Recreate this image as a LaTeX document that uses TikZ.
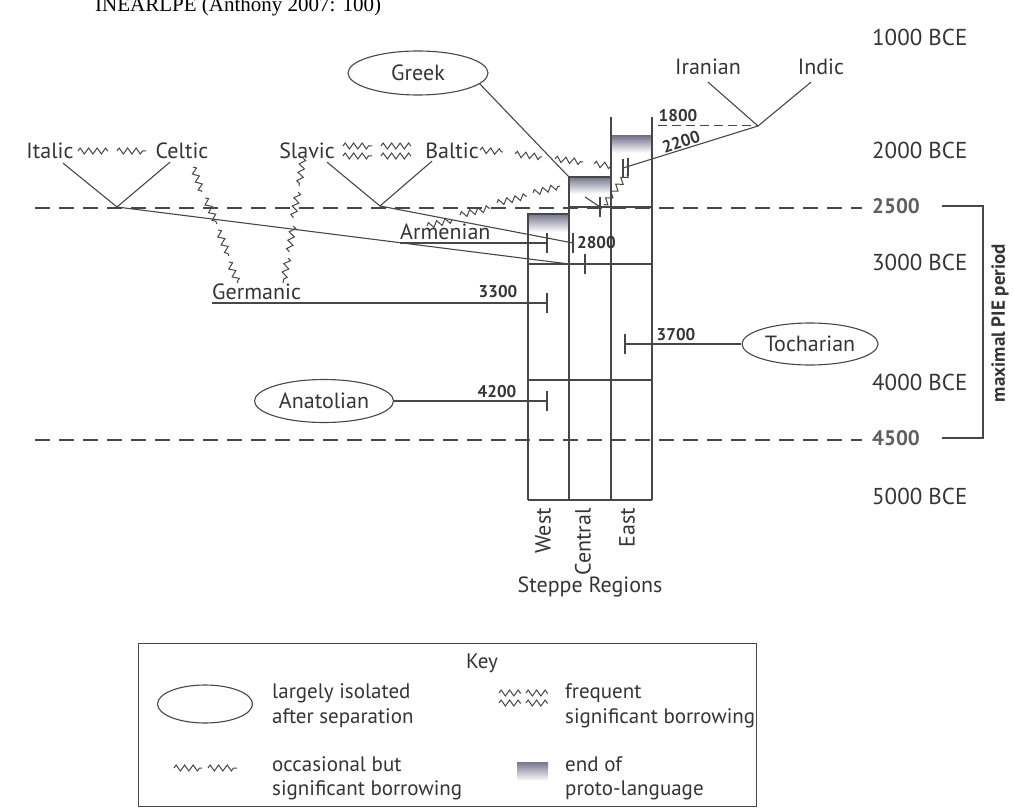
\documentclass[tikz,border=0pt]{standalone}
\usepackage{fontspec}
\setmainfont{PT Sans}
\newfontfamily\capfont{Liberation Serif}
\usetikzlibrary{decorations.pathmorphing,calc,shapes.geometric}
\definecolor{ink}{HTML}{474747}
\definecolor{txt}{HTML}{353535}
\definecolor{dim}{HTML}{5E5E5E}
\definecolor{shd}{RGB}{118,118,142}
\begin{document}
\begin{tikzpicture}[x=1pt,y=-1pt,
  every node/.style={text=txt, inner sep=0pt},
  ln/.style={draw=ink, line width=1.1pt},
  dsh/.style={draw=ink, line width=1.1pt, dash pattern=on 15pt off 9pt},
  zig/.style={draw=ink, line width=1pt, decorate, decoration={zigzag, amplitude=3pt, segment length=8.5pt}},
  lab/.style={font=\fontsize{22}{24}\selectfont},
  keytxt/.style={font=\fontsize{21}{24}\selectfont, anchor=west},
  num/.style={font=\fontsize{17}{19}\selectfont\bfseries},
  era/.style={font=\fontsize{23}{25}\selectfont, anchor=west},
  bnum/.style={font=\fontsize{21}{23}\selectfont\bfseries, anchor=west, text=dim},
  oval/.style={ellipse, draw=ink, line width=1.1pt, font=\fontsize{22}{24}\selectfont},
  tk/.style={draw=ink, line width=1.3pt},
  proto/.style={top color=shd, bottom color=white, draw=none},
]
\useasboundingbox (0,0) rectangle (1014,810);
\fill[white] (0,0) rectangle (1014,810);

% cut-off caption
\node[anchor=base west, font=\capfont\fontsize{21}{21}\selectfont, text=black] (caption) at (95,12) {INEARLPE (Anthony 2007: 100)};

% time scale
\node[era] (e1000) at (872,37) {1000 BCE};
\node[era] (e2000) at (872,150) {2000 BCE};
\node[bnum] (e2500) at (872,206) {2500};
\node[era] (e3000) at (872,262) {3000 BCE};
\node[era] (e4000) at (872,382) {4000 BCE};
\node[bnum] (e4500) at (872,438) {4500};
\node[era] (e5000) at (872,496) {5000 BCE};

\draw[dsh] (35,208) -- (862,208);
\draw[dsh] (35,440) -- (862,440);
\draw[ln] (942,206) -- (983,206) -- (983,438) -- (942,438);
\node[font=\fontsize{19}{21}\selectfont\bfseries, rotate=90] (pie) at (1000,323) {maximal PIE period};

% steppe columns
\fill[proto] (528,214) rectangle (569,232);
\fill[proto] (569,177) rectangle (611,194);
\fill[proto] (611,136) rectangle (652,153);
\draw[ln] (528,500) -- (528,214) -- (569,214);
\draw[ln] (569,500) -- (569,177) -- (611,177);
\draw[ln] (611,500) -- (611,117);
\draw[ln] (652,500) -- (652,117);
\draw[ln] (528,500) -- (652,500);
\draw[ln] (569,207) -- (652,207);
\draw[ln] (528,264) -- (652,264);
\draw[ln] (528,380) -- (652,380);

\node[lab, rotate=90, anchor=east] (west) at (543,508) {West};
\node[lab, rotate=90, anchor=east] (central) at (583,508) {Central};
\node[lab, rotate=90, anchor=east] (east) at (627,508) {East};
\node[lab] (steppe) at (590,587) {Steppe Regions};

% language labels
\node[lab] (italic) at (50,151) {Italic};
\node[lab] (celtic) at (182,151) {Celtic};
\node[lab] (slavic) at (307,151) {Slavic};
\node[lab] (baltic) at (452,151) {Baltic};
\node[lab] (iranian) at (708,67) {Iranian};
\node[lab] (indic) at (821,67) {Indic};
\node[lab, anchor=west] (armenian) at (400,232) {Armenian};
\node[lab, anchor=west] (germanic) at (212,292) {Germanic};
\node[oval, minimum width=140pt, minimum height=44pt] (greek) at (418,73) {Greek};
\node[oval, minimum width=139pt, minimum height=43pt] (anatolian) at (324,401) {Anatolian};
\node[oval, minimum width=136pt, minimum height=42pt] (tocharian) at (810,344) {Tocharian};

% vertices and tick points
\coordinate (vIC) at (117,207);
\coordinate (vSB) at (380,206);
\coordinate (vII) at (758,126);
\coordinate (c1800) at (658,126);
\coordinate (cTop) at (569,177);
\coordinate (c3000) at (569,264);
\coordinate (t2800) at (573,243);
\coordinate (tArm) at (547,243);
\coordinate (t3000) at (585,264);
\coordinate (t3300) at (547,303);
\coordinate (t4200) at (547,401);
\coordinate (t3700) at (625,344);
\coordinate (t2200) at (623,168);
\coordinate (t2200b) at (628,167);
\coordinate (t2500) at (600,207);
\coordinate (c2500) at (585,197);

% branch lines
\draw[ln] ($(italic.south)+(13,4)$) -- (vIC) -- ($(celtic.south)+(-12,3)$);
\draw[ln] ($(slavic.south)+(20,3)$) -- (vSB) -- ($(baltic.south)+(-20,2)$);
\draw[ln] ($(iranian.south)+(0,7)$) -- (vII) -- ($(indic.south)+(-10,7)$);
\draw[draw=ink, line width=1pt, dash pattern=on 9pt off 5pt] (c1800) -- (vII);
\draw[ln] (vII) -- (t2200);
\draw[ln] (greek.-10) -- (cTop);
\draw[ln] (vSB) -- (t2800);
\draw[ln] (vIC) -- (c3000) -- (t3000);
\draw[ln] ($(armenian.west)+(0,11)$) -- (tArm);
\draw[ln] ($(germanic.west)+(0,11)$) -- (t3300);
\draw[ln] (anatolian.east) -- (t4200);
\draw[ln] (tocharian.west) -- (t3700);
\draw[ln] (c2500) -- (t2500);

% ticks
\foreach \t in {t2800,tArm,t3000,t3300,t4200,t3700,t2500}
  \draw[tk] ($(\t)+(0,-10)$) -- ($(\t)+(0,10)$);
\draw[tk] ($(t2200)+(0,-9)$) -- ($(t2200)+(0,9)$);
\draw[tk] ($(t2200b)+(0,-9)$) -- ($(t2200b)+(0,9)$);

% numbers
\node[num] (n1800) at (678,116) {1800};
\node[num, rotate=18] (n2200) at (681,142) {2200};
\node[num, anchor=west] (n2800) at (577,243) {2800};
\node[num] (n3300) at (498,292) {3300};
\node[num] (n3700) at (676,335) {3700};
\node[num] (n4200) at (497,392) {4200};

% borrowing zigzags
\draw[zig] (78,151) -- (108,151);
\draw[zig] (117,151) -- (146,151);
\draw[zig] (343,146) -- (372,146);
\draw[zig] (381,146) -- (411,146);
\draw[zig] (343,156) -- (372,156);
\draw[zig] (381,156) -- (411,156);
\draw[zig] (480,150) -- (503,152);
\draw[zig] (515,154) -- (542,157);
\draw[zig] (555,159) -- (583,162);
\draw[zig] (594,164) -- (612,166);
\draw[zig] (627,174) -- (604,205);
\draw[zig] (427,226) -- (452,220);
\draw[zig] (460,215) -- (490,208);
\draw[zig] (497,203) -- (527,196);
\draw[zig] (533,193) -- (560,186);
\draw[zig] (193,167) -- (202,192);
\draw[zig] (205,198) -- (217,224);
\draw[zig] (218,230) -- (229,256);
\draw[zig] (229,262) -- (238,283);
\draw[zig] (303,158) -- (299,186);
\draw[zig] (298,192) -- (293,218);
\draw[zig] (293,226) -- (289,252);
\draw[zig] (288,258) -- (283,283);

% key
\draw[draw=ink, line width=1pt] (138,643) rectangle (756,806);
\node[keytxt, anchor=center] (key) at (482,663) {Key};
\node[ellipse, draw=ink, line width=1.1pt, minimum width=95pt, minimum height=38pt] (keyoval) at (205,704) {};
\node[keytxt] (k1a) at (272,693) {largely isolated};
\node[keytxt] (k1b) at (272,718) {after separation};
\draw[zig] (499,693) -- (521,693);
\draw[zig] (526,693) -- (548,693);
\draw[zig] (499,703) -- (521,703);
\draw[zig] (526,703) -- (548,703);
\node[keytxt] (k2a) at (565,693) {frequent};
\node[keytxt] (k2b) at (565,718) {significant borrowing};
\draw[zig] (174,768) -- (202,768);
\draw[zig] (208,768) -- (237,768);
\node[keytxt] (k3a) at (272,764) {occasional but};
\node[keytxt] (k3b) at (272,790) {significant borrowing};
\fill[proto] (517,762) rectangle (548,781);
\node[keytxt] (k4a) at (565,764) {end of};
\node[keytxt] (k4b) at (565,790) {proto-language};
\end{tikzpicture}
\end{document}
